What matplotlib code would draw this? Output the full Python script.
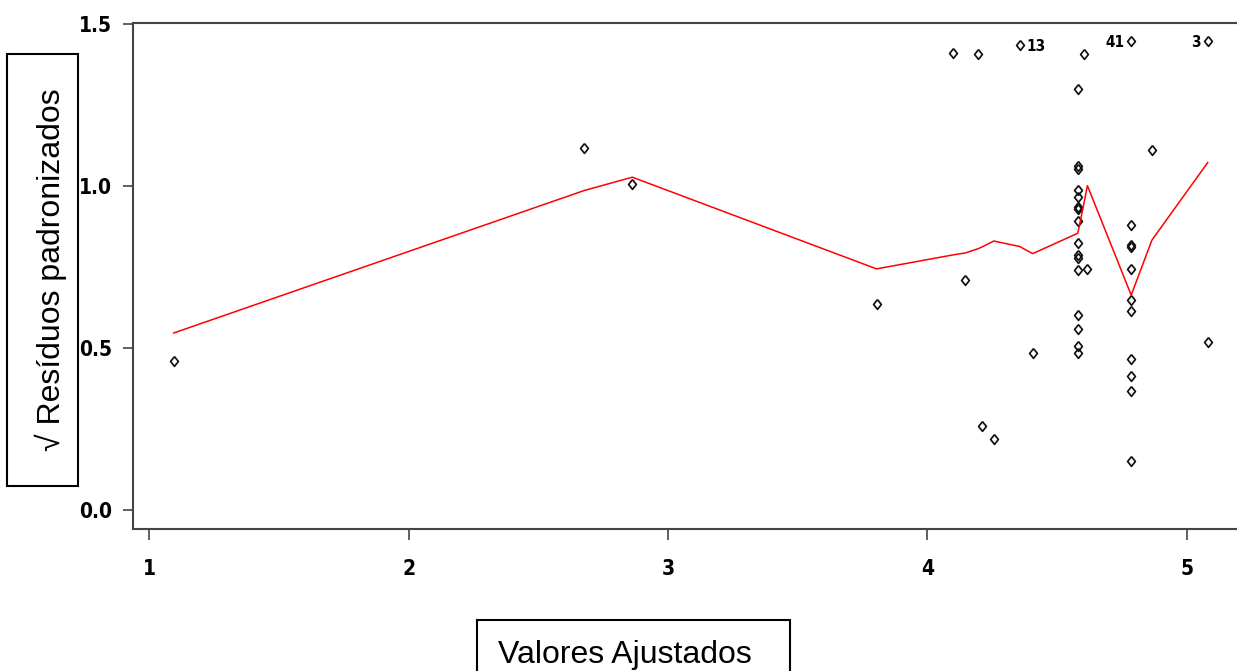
import matplotlib
matplotlib.use("Agg")
import matplotlib.pyplot as plt
from matplotlib.patches import Rectangle

# fitted values / sqrt |standardized residuals|
fitted = [1.093, 2.677, 2.862, 3.804, 4.098, 4.145, 4.195, 4.209, 4.256, 4.356, 4.406,
          4.580, 4.580, 4.580, 4.580, 4.580, 4.580, 4.580, 4.580,
          4.580, 4.580, 4.580, 4.580, 4.580, 4.580, 4.580, 4.580,
          4.605, 4.617,
          4.786, 4.786, 4.786, 4.786, 4.786, 4.786, 4.786, 4.786, 4.786, 4.786, 4.786,
          4.866, 5.081, 5.081]
sqrt_resid = [0.459, 1.115, 1.005, 0.634, 1.410, 0.710, 1.405, 0.258, 0.219, 1.434, 0.484,
              1.298, 1.061, 1.051, 0.986, 0.966, 0.935, 0.927, 0.892,
              0.822, 0.786, 0.776, 0.740, 0.600, 0.556, 0.506, 0.482,
              1.405, 0.744,
              1.447, 0.878, 0.817, 0.811, 0.744, 0.647, 0.614, 0.464, 0.412, 0.367, 0.151,
              1.111, 1.447, 0.517]

# lowess smooth
smooth_x = [1.093, 2.677, 2.862, 3.804, 4.098, 4.145, 4.195, 4.209, 4.256, 4.356, 4.406,
            4.580, 4.605, 4.617, 4.786, 4.866, 5.081]
smooth_y = [0.545, 0.985, 1.026, 0.743, 0.786, 0.792, 0.805, 0.810, 0.829, 0.812, 0.790,
            0.853, 0.950, 1.000, 0.662, 0.832, 1.071]

# identified points: (label, x, y, side)
id_labels = ["13", "41", "3"]
id_x = [4.356, 4.786, 5.081]
id_y = [1.434, 1.447, 1.447]
id_side = ["right", "left", "left"]

xticks = [1, 2, 3, 4, 5]
yticks = [0.0, 0.5, 1.0, 1.5]

W, H = 1237, 671
fig = plt.figure(figsize=(W / 100, H / 100), dpi=100)

# axes box in pixels (left, top, right, bottom)
l, t, r, b = 133, 22.7, 1237, 528.5
ax = fig.add_axes([l / W, 1 - b / H, (r - l) / W, (b - t) / H])

narrow = ["Liberation Sans Narrow", "DejaVu Sans"]
tick_font = dict(family=narrow, weight="bold", stretch="condensed", size=15)

diamond = [(0, 1), (0.8, 0), (0, -1), (-0.8, 0), (0, 1)]
ax.plot(fitted, sqrt_resid, linestyle="none", marker=diamond, markersize=7,
        markerfacecolor="none", markeredgecolor="#111111", markeredgewidth=1.25)
ax.plot(smooth_x, smooth_y, color="#ff0000", linewidth=1.1)

for lab, x, y, side in zip(id_labels, id_x, id_y, id_side):
    off = 5 if side == "right" else -5
    ax.annotate(lab, (x, y), xytext=(off, -1), textcoords="offset points",
                ha="left" if side == "right" else "right", va="center",
                family=narrow, weight="bold", stretch="condensed", size=11)

ax.set_xlim(0.9364, 5.194)
ax.set_ylim(-0.0583, 1.5028)
ax.set_xticks(xticks)
ax.set_xticklabels([str(v) for v in xticks], fontdict=tick_font)
ax.set_yticks(yticks)
ax.set_yticklabels([f"{v:.1f}" for v in yticks], fontdict=tick_font)

for s in ["left", "top", "bottom"]:
    ax.spines[s].set_color("#444444")
    ax.spines[s].set_linewidth(1.5)
ax.spines["right"].set_visible(False)
ax.tick_params(axis="y", length=7, width=1.2, color="#444444", pad=8)
ax.tick_params(axis="x", length=8, width=1.2, color="#444444", pad=14)

# boxed axis titles
fig.add_artist(Rectangle((7.3 / W, 1 - 486 / H), 71 / W, 432 / H, transform=fig.transFigure,
                         fill=False, edgecolor="black", linewidth=1.5))
fig.text(51 / W, 1 - 270 / H, "\u221a Resíduos padronizados", rotation=90,
         ha="center", va="center", size=23, family=["Liberation Sans", "DejaVu Sans"])

fig.add_artist(Rectangle((476.7 / W, 1 - 680 / H), 313.3 / W, 60 / H, transform=fig.transFigure,
                         fill=False, edgecolor="black", linewidth=1.5))
fig.text(498 / W, 8 / H, "Valores Ajustados", ha="left", va="baseline",
         size=23, family=["Liberation Sans", "DejaVu Sans"])

fig.savefig("out.png", dpi=100)
